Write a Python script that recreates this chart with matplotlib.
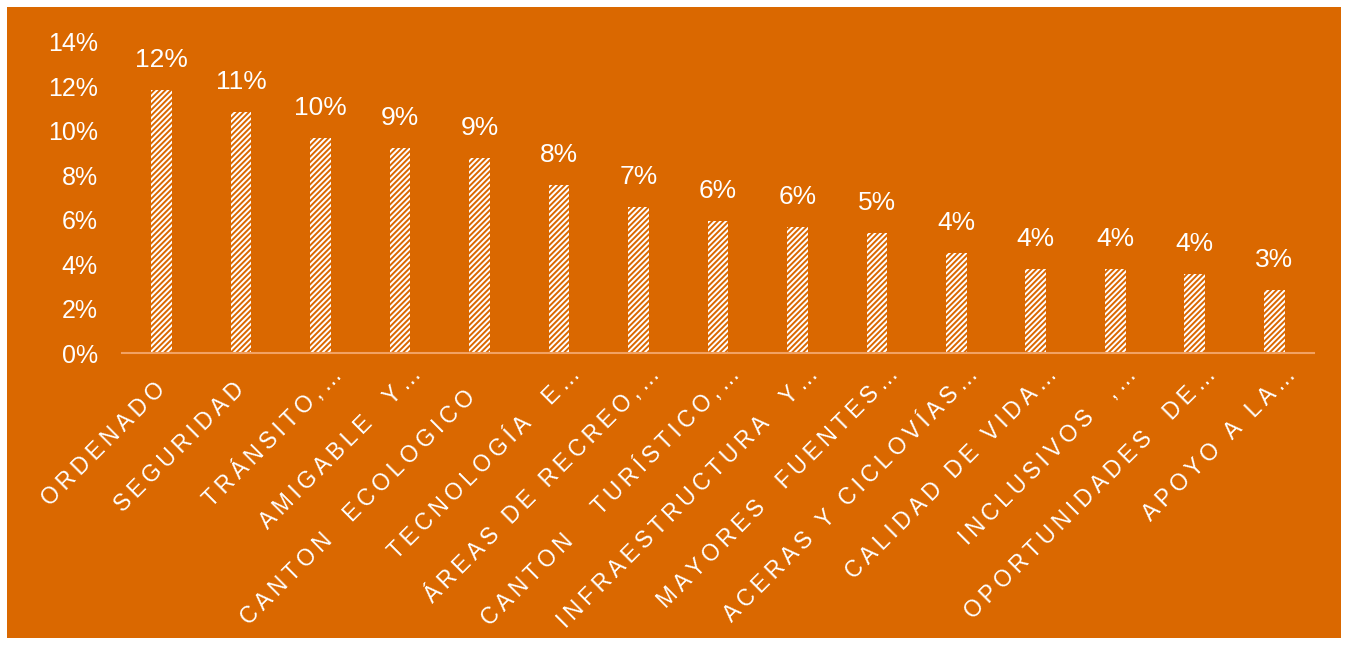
import matplotlib
matplotlib.use("Agg")
import matplotlib.pyplot as plt
from matplotlib.patches import Rectangle
from matplotlib.ticker import PercentFormatter
import matplotlib.transforms as mtransforms

# valores de la encuesta (proporción de respuestas)
categorias = [
    "ORDENADO", "SEGURIDAD", "TRÁNSITO,…", "AMIGABLE  Y…", "CANTON  ECOLOGICO ",
    "TECNOLOGÍA  E…", "ÁREAS DE RECREO,…", "CANTON   TURÍSTICO,…",
    "INFRAESTRUCTURA  Y…", "MAYORES  FUENTES…", "ACERAS Y CICLOVÍAS…",
    "CALIDAD DE VIDA…", "INCLUSIVOS  ,…", "OPORTUNIDADES  DE…", "APOYO A LA…",
]
valores = [0.1185, 0.1086, 0.0968, 0.0923, 0.0878, 0.0757, 0.0658, 0.0595,
           0.0568, 0.0541, 0.0448, 0.0378, 0.0378, 0.0356, 0.0284]
yticks = [0, 0.02, 0.04, 0.06, 0.08, 0.10, 0.12, 0.14]

NARANJA = "#DA6800"
LINEA = "#F2A263"
FUENTE = ["Liberation Sans", "DejaVu Sans"]

plt.rcParams["font.family"] = FUENTE
plt.rcParams["hatch.color"] = NARANJA
plt.rcParams["hatch.linewidth"] = 1.4


def espaciado(texto):
    # separa las letras con un espacio fino
    return "\u2009".join(texto)


fig = plt.figure(figsize=(13.49, 6.45), dpi=100, facecolor="white")
fig.patches.append(Rectangle((7 / 1349, 7 / 645), 1334 / 1349, 631 / 645,
                             transform=fig.transFigure, facecolor=NARANJA,
                             edgecolor="none", zorder=-10))

ax = fig.add_axes([0.0904, 0.4527, 0.8836, 0.4822])
ax.set_facecolor("none")

x = list(range(len(categorias)))
barras = ax.bar(x, valores, width=0.26, color="white", edgecolor=NARANJA,
                linewidth=0, hatch="//////", zorder=2)

for xi, v in zip(x, valores):
    ax.annotate(f"{v:.0%}", (xi, v), xytext=(0, 13), textcoords="offset points",
                ha="center", va="bottom", color="white", fontsize=19)

ax.set_xlim(-0.5, len(categorias) - 0.5)
ax.set_ylim(0, 0.14)
ax.set_yticks(yticks)
ax.yaxis.set_major_formatter(PercentFormatter(1.0, decimals=0))
ax.tick_params(axis="y", length=0, pad=17.5, labelsize=18, labelcolor="white")
ax.tick_params(axis="x", length=0)

for lado in ["top", "right", "left"]:
    ax.spines[lado].set_visible(False)
ax.spines["bottom"].set_color(LINEA)
ax.spines["bottom"].set_linewidth(1.5)

ax.set_xticks(x)
ax.set_xticklabels([espaciado(c) for c in categorias], rotation=45,
                   ha="right", va="center", rotation_mode="anchor",
                   color="white", fontsize=16.5)
# las etiquetas truncadas sobresalen un poco más por el "…"
for etiqueta in ax.get_xticklabels():
    if etiqueta.get_text().endswith("…"):
        dx, dy = 18, -13
    else:
        dx, dy = 0, -28
    desplazamiento = mtransforms.ScaledTranslation(dx / 100, dy / 100,
                                                   fig.dpi_scale_trans)
    etiqueta.set_transform(etiqueta.get_transform() + desplazamiento)

fig.savefig("out.png", dpi=100, facecolor="white")
